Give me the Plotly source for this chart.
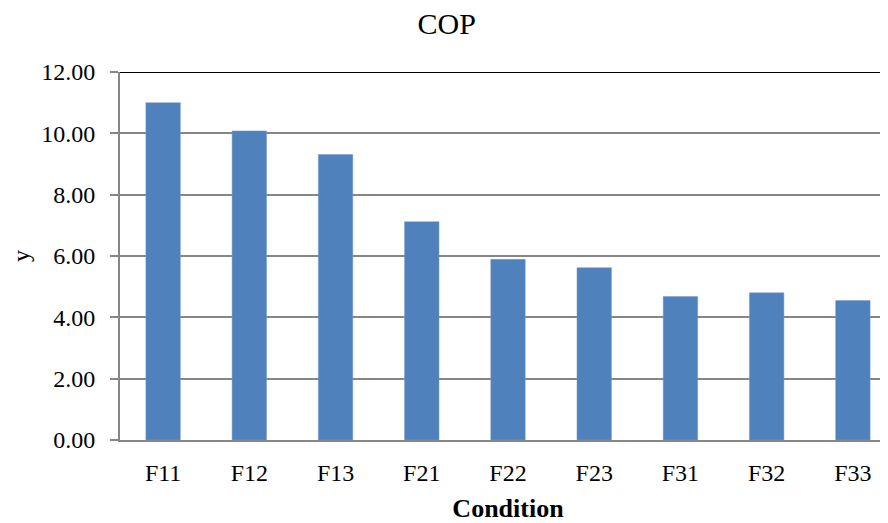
import plotly.graph_objects as go

categories = ["F11", "F12", "F13", "F21", "F22", "F23", "F31", "F32", "F33"]
cop_values = [11.00, 10.08, 9.31, 7.12, 5.89, 5.62, 4.68, 4.80, 4.55]
y_ticks = [0, 2, 4, 6, 8, 10, 12]

fig = go.Figure()
fig.add_trace(go.Bar(
    x=categories, y=cop_values,
    marker=dict(color="#4F81BD", line=dict(color="#7A9CCB", width=0.5)),
    width=0.4,
))

serif = "Liberation Serif, Times New Roman, serif"
fig.update_layout(
    width=888, height=523,
    margin=dict(l=112, r=0, t=64, b=91),
    paper_bgcolor="white", plot_bgcolor="white",
    showlegend=False,
    title=dict(text="COP", x=0.494, xanchor="center", y=0.97, yanchor="middle",
               font=dict(family=serif, size=30, color="black")),
    font=dict(family=serif, color="black"),
    xaxis=dict(
        range=[-0.5, 8.5],
        showline=True, linecolor="#868686", linewidth=2,
        ticks="", showgrid=False,
        tickfont=dict(family=serif, size=24, color="black"),
        ticklabelstandoff=10,
        title=dict(text="<b>Condition</b>", font=dict(family=serif, size=26, color="black"), standoff=14),
    ),
    yaxis=dict(
        range=[0, 12],
        tickvals=y_ticks, tickformat=".2f",
        showline=True, linecolor="#868686", linewidth=2,
        ticks="outside", ticklen=8, tickcolor="#868686", tickwidth=2,
        showgrid=True, gridcolor="#868686", gridwidth=2,
        zeroline=False,
        tickfont=dict(family=serif, size=24, color="black"),
        ticklabelstandoff=10,
        title=dict(text="y", font=dict(family=serif, size=24, color="black"), standoff=8),
    ),
)
fig.add_shape(type="line", xref="paper", yref="y", x0=0, x1=1, y0=12, y1=12,
              line=dict(color="black", width=2))
fig.write_html("out.html")
